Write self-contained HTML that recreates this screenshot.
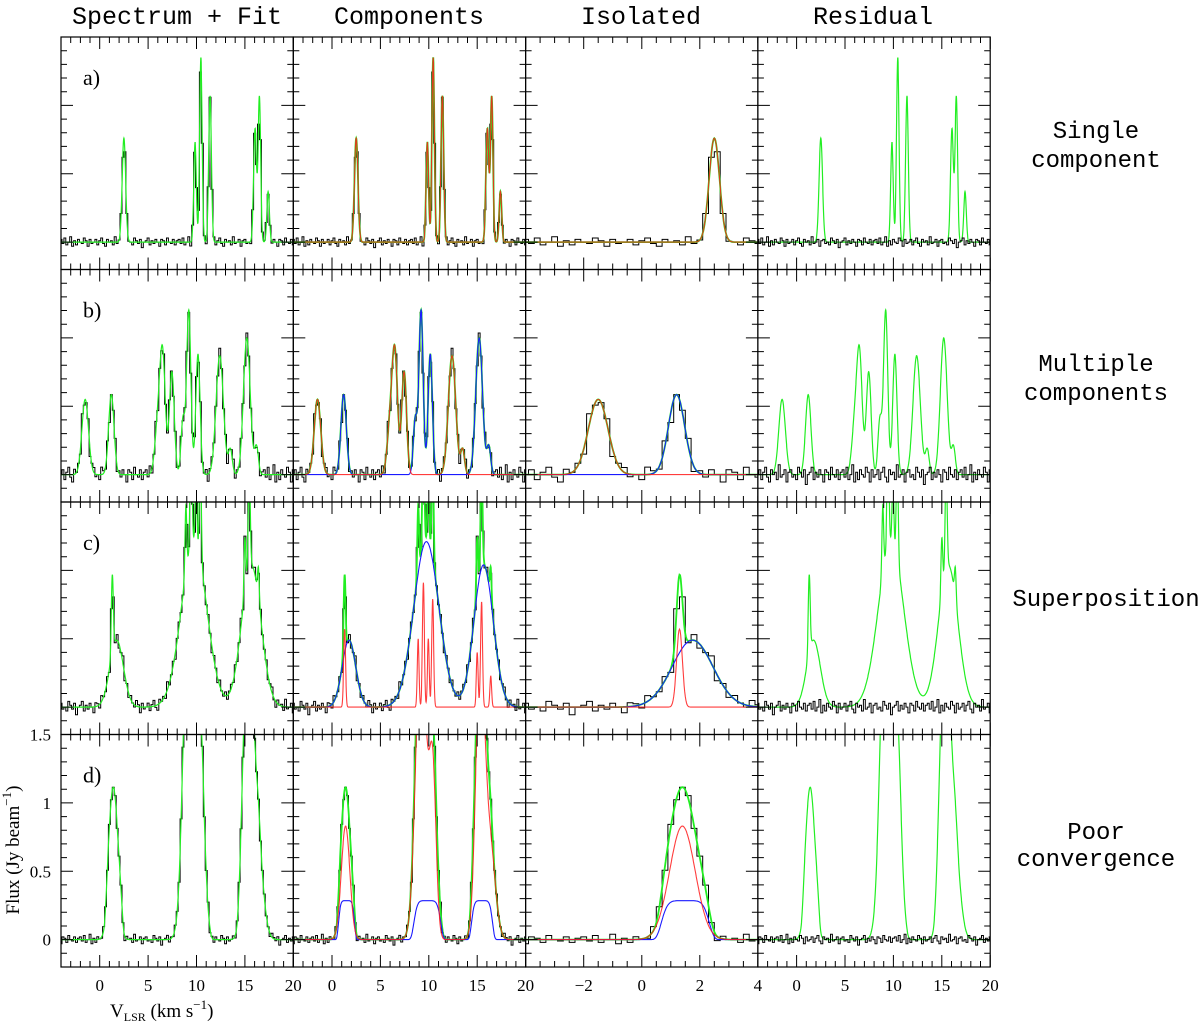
<!DOCTYPE html>
<html><head><meta charset="utf-8">
<style>
html,body{margin:0;padding:0;background:#fff;}
svg{display:block;}
text{font-family:"Liberation Mono","DejaVu Sans Mono",monospace;fill:#000;}
</style></head>
<body>
<svg id="fig" width="1200" height="1027" viewBox="0 0 1200 1027" xmlns="http://www.w3.org/2000/svg">
<g id="titles" font-size="25">
<text x="177" y="24" text-anchor="middle">Spectrum + Fit</text>
<text x="409" y="24" text-anchor="middle">Components</text>
<text x="641" y="24" text-anchor="middle">Isolated</text>
<text x="873" y="24" text-anchor="middle">Residual</text>
</g>
<g id="rowlabels" font-size="24" text-anchor="middle">
<text x="1096" y="138">Single</text>
<text x="1096" y="167">component</text>
<text x="1096" y="371">Multiple</text>
<text x="1096" y="400">components</text>
<text x="1106" y="606">Superposition</text>
<text x="1096" y="839">Poor</text>
<text x="1096" y="866">convergence</text>
</g>
<text font-size="19" transform="translate(19,850) rotate(-90)" text-anchor="middle" style="font-family:'Liberation Serif',serif">Flux (Jy beam<tspan dy="-8" font-size="13">−1</tspan><tspan dy="8">)</tspan></text>
<text x="110" y="1017" font-size="19" style="font-family:'Liberation Serif',serif">V<tspan font-size="12" dy="4">LSR</tspan><tspan dy="-4"> (km s</tspan><tspan dy="-8" font-size="13">−1</tspan><tspan dy="8">)</tspan></text>
<g id="panels"></g>
</svg>
<script>
const rowA_amp=[0.76,0.73,1.35,1.07,0.83,1.06,0.37];
const rowA_cen=[2.5,9.85,10.45,11.4,16.05,16.5,17.4];
const rowA_sig=[0.18,0.13,0.13,0.14,0.15,0.13,0.13];
const rowA_pow=[2,2,2,2,2,2,2];
const rowA_grp=['r','r','r','r','r','r','r'];

const rowB_amp=[0.55,0.35,0.85,0.75,0.87,0.18,0.585,0.40,1.20,0.88,1.00,0.20];
const rowB_cen=[-1.5,6.0,6.5,7.45,12.4,13.5,1.2,8.6,9.2,10.15,15.2,16.2];
const rowB_sig=[0.34,0.3,0.28,0.25,0.38,0.2,0.28,0.2,0.22,0.22,0.35,0.2];
const rowB_pow=[2,2,2,2,2,2,2,2,2,2,2,2];
const rowB_grp=['r','r','r','r','r','r','b','b','b','b','b','b'];

const rowC_amp=[0.57,0.5,0.91,0.5,0.79,0.4,0.77,0.23,0.49,1.21,1.04];
const rowC_cen=[1.3,8.9,9.44,9.95,10.4,15.0,15.45,16.4,1.75,9.75,15.66];
const rowC_sig=[0.1,0.09,0.1,0.09,0.1,0.09,0.1,0.09,0.7,1.3,1.0];
const rowC_pow=[2,2,2,2,2,2,2,2,2,2,2];
const rowC_grp=['r','r','r','r','r','r','r','r','b','b','b'];

const rowD_amp=[0.83,2.2,1.2,2.0,0.7,0.285,0.285,0.285];
const rowD_cen=[1.4,9.2,10.4,15.3,16.3,1.5,9.85,15.5];
const rowD_sig=[0.44,0.55,0.35,0.45,0.55,0.76,1.28,1.0];
const rowD_pow=[2,2,2,2,2,6,6,6];
const rowD_grp=['r','r','r','r','r','b','b','b'];

const noise=[0.02,-0.01,0.03,-0.02,0.0,0.04,-0.03,0.01,-0.02,0.02,0.0,-0.01,0.03,0.01,-0.03,0.02,-0.01,0.0,0.02,-0.02,0.01,0.03,-0.01,-0.03,0.02,0.0,0.01,-0.02,0.04,-0.01,0.0,0.02,-0.03,0.01,0.02,-0.01,0.0,-0.02,0.03,0.01,-0.01,0.02,-0.04,0.0,0.01,0.03,-0.02,0.01,-0.01,0.02,0.0,-0.03,0.02,0.01,-0.02,0.03,0.0,-0.01,0.02,-0.02,0.01];
const noiseScale=[1.0,1.8,1.4,1.0];
const rowLetters=['a)','b)','c)','d)'];
const xTickLabelsMain=['0','5','10','15','20'];
const xTickLabelsIso=['−2','0','2','4'];
const yTickLabels=['0','0.5','1','1.5'];

const rows=[
 {amp:rowA_amp,cen:rowA_cen,sig:rowA_sig,pow:rowA_pow,grp:rowA_grp},
 {amp:rowB_amp,cen:rowB_cen,sig:rowB_sig,pow:rowB_pow,grp:rowB_grp},
 {amp:rowC_amp,cen:rowC_cen,sig:rowC_sig,pow:rowC_pow,grp:rowC_grp},
 {amp:rowD_amp,cen:rowD_cen,sig:rowD_sig,pow:rowD_pow,grp:rowD_grp}
];

const NS='http://www.w3.org/2000/svg';
const root=document.getElementById('panels');
const PX0=61, PW=232.3, PY0=37, PH=232.5;
const YMIN=-0.2, YMAX=1.5, DV=0.2;

function mk(tag,attrs,parent){const e=document.createElementNS(NS,tag);for(const k in attrs)e.setAttribute(k,attrs[k]);parent.appendChild(e);return e;}
function comp(r,i,v){const z=Math.abs((v-r.cen[i])/r.sig[i]);return r.amp[i]*Math.exp(-0.5*Math.pow(z,r.pow[i]));}
function model(r,v,g){let s=0;for(let i=0;i<r.amp.length;i++){if(!g||r.grp[i]===g)s+=comp(r,i,v);}return s;}
function chanNoise(ri,k){return noise[(k+ri*17)%noise.length]*noiseScale[ri];}

for(let ri=0;ri<4;ri++){
 const r=rows[ri];
 for(let ci=0;ci<4;ci++){
  const x0=PX0+ci*PW, y0=PY0+ri*PH;
  const vmin=-4, vmax=ci===2?4:20;
  const sx=v=>x0+(v-vmin)/(vmax-vmin)*PW;
  const sy=f=>y0+PH-(f-YMIN)/(YMAX-YMIN)*PH;
  const g=mk('g',{},root);
  
  
  const cid='clip'+ri+ci;
  const cp=mk('clipPath',{id:cid},g);
  mk('rect',{x:x0,y:y0,width:PW,height:PH},cp);
  const lg=mk('g',{'clip-path':'url(#'+cid+')'},g);
  const k0=Math.round((vmin+4)/DV), k1=Math.round((vmax+4)/DV);
  function stepPath(fn){let d='';for(let k=k0;k<=k1;k++){const v=-4+k*DV;const y=sy(fn(v,k));const xa=sx(Math.max(vmin,v-DV/2)),xb=sx(Math.min(vmax,v+DV/2));d+=(k===k0?'M':'L')+xa.toFixed(1)+','+y.toFixed(1)+'L'+xb.toFixed(1)+','+y.toFixed(1);}return d;}
  function smoothPath(fn){let d='';const n=Math.round((vmax-vmin)/0.02);for(let j=0;j<=n;j++){const v=vmin+j*(vmax-vmin)/n;d+=(j?'L':'M')+sx(v).toFixed(1)+','+sy(Math.min(fn(v),1.7)).toFixed(1);}return d;}
  const obs=(v,k)=>model(r,v)+chanNoise(ri,k);
  if(ci<3){
   const p=mk('path',{d:stepPath(obs),fill:'none',stroke:'#000','stroke-width':1},lg);
   
   
   const gf=mk('path',{d:smoothPath(v=>model(r,v)),fill:'none',stroke:'#22ee22','stroke-width':ci===0?1.2:1.8},lg);
   
   
   if(ci>0){
    if(r.grp.indexOf('b')>=0){
     const pb=mk('path',{d:smoothPath(v=>model(r,v,'b')),fill:'none',stroke:'#1a1aff','stroke-width':1.1},lg);
     
     
    }
    const pr=mk('path',{d:smoothPath(v=>model(r,v,'r')),fill:'none',stroke:'#ff1a1a','stroke-width':1.1,'stroke-opacity':0.85},lg);
    
    
   }
  } else {
   const gf=mk('path',{d:smoothPath(v=>model(r,v)),fill:'none',stroke:'#22ee22','stroke-width':1.2},lg);
   
   
   const p=mk('path',{d:stepPath((v,k)=>chanNoise(ri,k)),fill:'none',stroke:'#000','stroke-width':1},lg);
   
   
  }
  const fr=mk('rect',{x:x0,y:y0,width:PW,height:PH,fill:'none',stroke:'#000','stroke-width':1.2},g);
  
  
  let d='';
  const maj=ci===2?2:5, mnr=ci===2?0.5:1;
  for(let v=vmin;v<=vmax+1e-6;v+=mnr){
   const isM=Math.abs(v/maj-Math.round(v/maj))<1e-6;const L=isM?12:6;const x=sx(v).toFixed(1);
   d+='M'+x+','+(y0+PH)+'v'+(-L)+'M'+x+','+y0+'v'+L;
  }
  for(let f=-0.2;f<=1.5+1e-6;f+=0.1){
   const isM=Math.abs(f/0.5-Math.round(f/0.5))<1e-6;const L=isM?12:6;const y=sy(f).toFixed(1);
   d+='M'+x0+','+y+'h'+L+'M'+(x0+PW)+','+y+'h'+(-L);
  }
  const tk=mk('path',{d:d,stroke:'#000','stroke-width':1,fill:'none'},g);
  
  
  if(ci===0){
   const t=mk('text',{x:x0+22,y:y0+48,'font-size':22,style:"font-family:'Liberation Serif',serif"},g);
   t.textContent=rowLetters[ri];
   
   
  }
  if(ri===3){
   const labs=ci===2?xTickLabelsIso:xTickLabelsMain;
   labs.forEach((s,j)=>{const v=ci===2?-2+j*2:j*5;
    const t=mk('text',{x:sx(v),y:y0+PH+24,'font-size':17,'text-anchor':'middle',style:"font-family:'Liberation Serif',serif"},g);
    t.textContent=s;
    
    });
   if(ci===0){
    yTickLabels.forEach((s,j)=>{
     const t=mk('text',{x:x0-10,y:sy(j*0.5)+6,'font-size':17,'text-anchor':'end',style:"font-family:'Liberation Serif',serif"},g);
     t.textContent=s;
     
     });
   }
  }
 }
}
</script>
</body></html>
